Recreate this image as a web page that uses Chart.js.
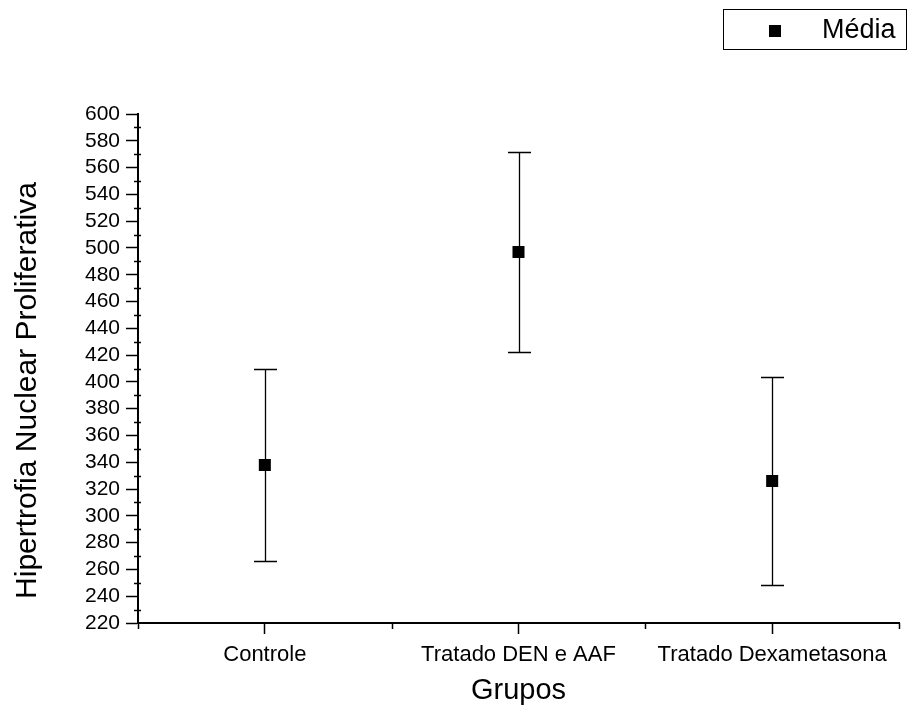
<!DOCTYPE html>
<html><head><meta charset="utf-8">
<script src="https://cdn.jsdelivr.net/npm/chart.js@4/dist/chart.umd.min.js"></script>
<style>html,body{margin:0;padding:0;background:#fff;}</style>
</head><body>
<canvas id="c" width="908" height="711"></canvas>
<script>
const categories = ['Controle', 'Tratado DEN e AAF', 'Tratado Dexametasona'];
const means = [338, 497, 326];
const errors = [71.5, 74.5, 78];
const yTicks = [220, 240, 260, 280, 300, 320, 340, 360, 380, 400, 420, 440, 460, 480, 500, 520, 540, 560, 580, 600];
const seriesLabel = 'Média';
const yTitle = 'Hipertrofia Nuclear Proliferativa';
const xTitle = 'Grupos';

const FONT = "'Liberation Sans', Arial, Helvetica, sans-serif";

const errorBarPlugin = {
  id: 'errbars',
  beforeDatasetsDraw(chart) {
    const {ctx, scales: {x, y}} = chart;
    ctx.save();
    ctx.strokeStyle = '#000';
    ctx.lineWidth = 1.3;
    means.forEach((m, i) => {
      const px = Math.round(x.getPixelForValue(i)) + 0.5;
      const yt = Math.round(y.getPixelForValue(m + errors[i])) + 0.5;
      const yb = Math.round(y.getPixelForValue(m - errors[i])) + 0.5;
      ctx.beginPath();
      ctx.moveTo(px, yt); ctx.lineTo(px, yb);
      ctx.moveTo(px - 11.5, yt); ctx.lineTo(px + 11.5, yt);
      ctx.moveTo(px - 11.5, yb); ctx.lineTo(px + 11.5, yb);
      ctx.stroke();
    });
    ctx.restore();
  }
};

const decorPlugin = {
  id: 'decor',
  afterDraw(chart) {
    const {ctx, scales: {x, y}, chartArea} = chart;
    ctx.save();
    ctx.strokeStyle = '#000';
    ctx.lineWidth = 1.5;
    // minor y ticks
    ctx.beginPath();
    for (let i = 0; i < yTicks.length - 1; i++) {
      const v = (yTicks[i] + yTicks[i + 1]) / 2;
      const py = Math.round(y.getPixelForValue(v)) + 0.5;
      ctx.moveTo(chartArea.left - 4, py); ctx.lineTo(chartArea.left + 3, py);
    }
    // x boundary ticks
    for (let i = 0; i <= categories.length; i++) {
      const px = Math.round(x.getPixelForValue(i - 0.5)) + 0.5;
      ctx.moveTo(px, chartArea.bottom); ctx.lineTo(px, chartArea.bottom + 6);
    }
    ctx.stroke();

    // y title
    ctx.fillStyle = '#000';
    ctx.save();
    ctx.translate(27.5, 390.5);
    ctx.rotate(-Math.PI / 2);
    ctx.font = '30px ' + FONT;
    ctx.textAlign = 'center';
    ctx.textBaseline = 'middle';
    ctx.fillText(yTitle, 0, 0);
    ctx.restore();

    // legend
    ctx.lineWidth = 1;
    ctx.strokeRect(723.5, 9.5, 183, 40);
    ctx.fillRect(769, 25, 12, 12);
    ctx.font = '27px ' + FONT;
    ctx.textAlign = 'left';
    ctx.textBaseline = 'middle';
    ctx.fillText(seriesLabel, 822, 31);
    ctx.restore();
  }
};

new Chart(document.getElementById('c'), {
  type: 'line',
  data: {
    labels: categories,
    datasets: [{
      label: seriesLabel,
      data: means,
      showLine: false,
      pointStyle: 'rect',
      pointRadius: 8.5,
      pointHoverRadius: 8.5,
      backgroundColor: '#000',
      borderColor: '#000',
      borderWidth: 0
    }]
  },
  options: {
    responsive: false,
    animation: false,
    events: [],
    layout: {padding: {top: 114, right: 9, left: 0, bottom: 0}},
    plugins: {legend: {display: false}, tooltip: {enabled: false}},
    scales: {
      x: {
        type: 'category',
        offset: true,
        grid: {display: true, drawOnChartArea: false, drawTicks: true, tickLength: 11, tickWidth: 1.5, tickColor: '#000', offset: false},
        border: {display: true, color: '#000', width: 2},
        ticks: {color: '#000', font: {family: FONT, size: 22}, padding: 8, maxRotation: 0, autoSkip: false},
        title: {display: true, text: xTitle, color: '#000', font: {family: FONT, size: 29}, padding: {top: 0, bottom: 3}},
        afterFit(s) { s.height = 88; }
      },
      y: {
        type: 'linear',
        min: 220,
        max: 600,
        grid: {drawOnChartArea: false, tickLength: 12, tickWidth: 1.5, tickColor: '#000'},
        border: {display: true, color: '#000', width: 2},
        ticks: {color: '#000', font: {family: FONT, size: 21, lineHeight: 1}, padding: 6, autoSkip: false},
        afterBuildTicks(s) { s.ticks = yTicks.map(v => ({value: v})); },
        afterFit(s) { s.width = 138; }
      }
    }
  },
  plugins: [errorBarPlugin, decorPlugin]
});
</script>
</body></html>
